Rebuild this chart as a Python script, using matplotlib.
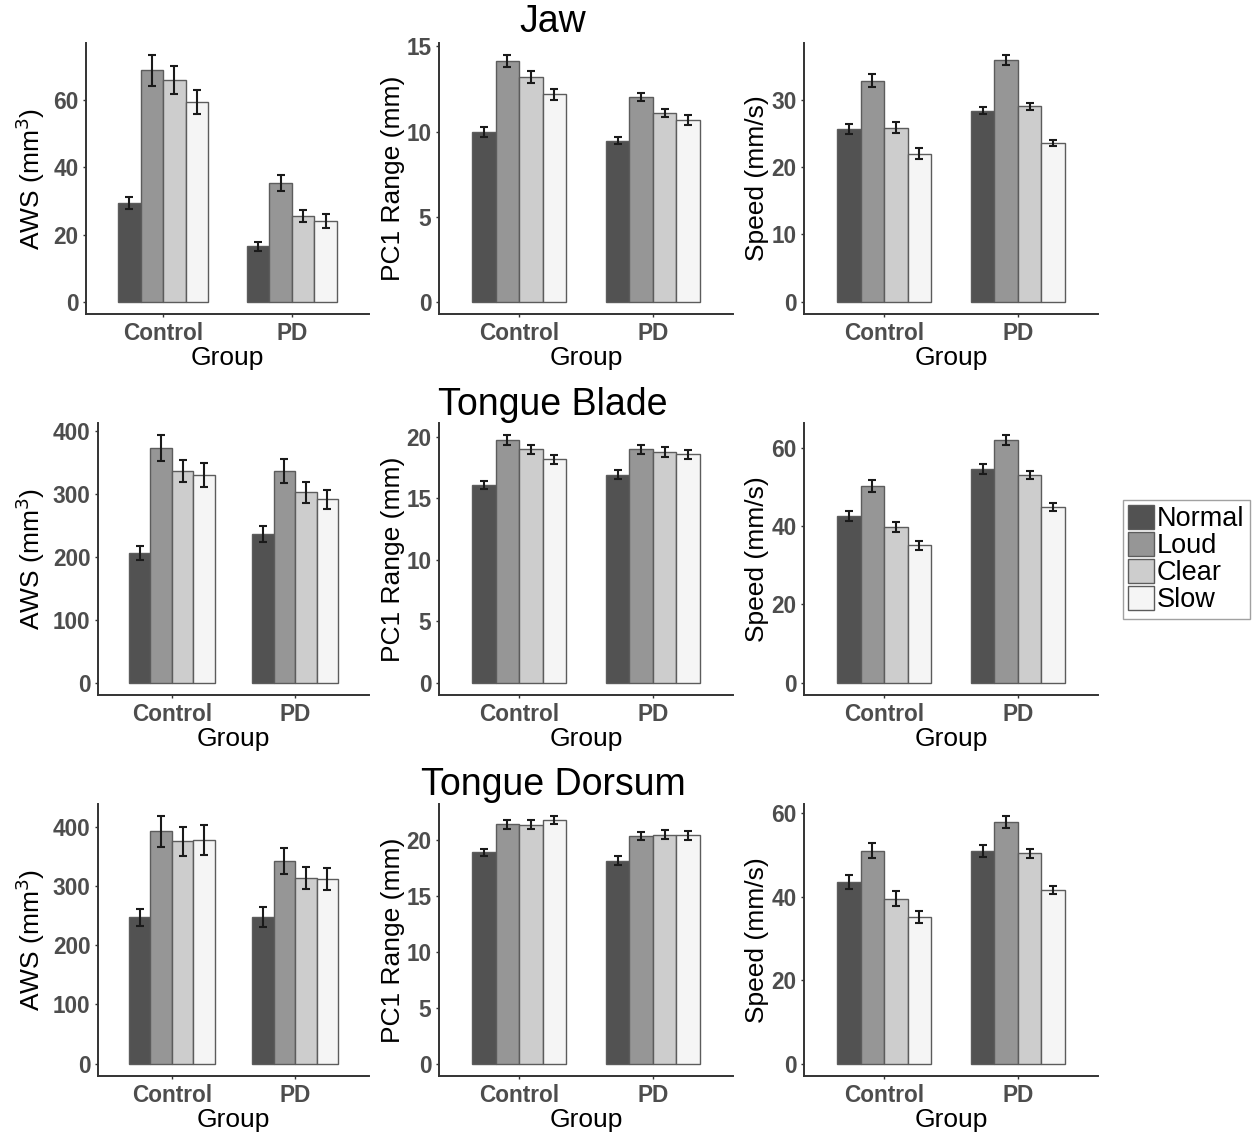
import numpy as np
import matplotlib
matplotlib.use("Agg")
import matplotlib.pyplot as plt
from matplotlib.patches import Patch

plt.rcParams['font.family'] = ['Liberation Sans', 'DejaVu Sans']

groups = ["Control", "PD"]
conditions = ["Normal", "Loud", "Clear", "Slow"]
fills = ["#525252", "#969696", "#cdcdcd", "#f5f5f5"]

# values: rows = group (Control, PD), cols = condition (Normal, Loud, Clear, Slow)
jaw_aws = [[29.4, 68.9, 66.1, 59.4], [16.5, 35.4, 25.6, 24.0]]
jaw_aws_err = [[1.8, 4.5, 4.2, 3.6], [1.3, 2.3, 1.8, 2.1]]
jaw_pc1 = [[9.98, 14.13, 13.2, 12.18], [9.45, 12.03, 11.1, 10.7]]
jaw_pc1_err = [[0.3, 0.35, 0.33, 0.3], [0.2, 0.26, 0.25, 0.3]]
jaw_speed = [[25.7, 32.9, 25.9, 22.0], [28.4, 35.9, 29.06, 23.6]]
jaw_speed_err = [[0.8, 1.0, 0.85, 0.8], [0.55, 0.75, 0.55, 0.5]]

tb_aws = [[206, 372, 336, 330], [236, 336, 302, 291]]
tb_aws_err = [[11, 20.6, 17.4, 19], [13, 18.5, 16.6, 15]]
tb_pc1 = [[16.05, 19.7, 18.97, 18.14], [16.9, 18.97, 18.76, 18.57]]
tb_pc1_err = [[0.3, 0.4, 0.38, 0.36], [0.38, 0.38, 0.42, 0.38]]
tb_speed = [[42.5, 50.2, 39.8, 35.1], [54.5, 62.0, 53.1, 44.9]]
tb_speed_err = [[1.3, 1.5, 1.3, 1.1], [1.3, 1.2, 1.05, 1.1]]

td_aws = [[246.7, 391.6, 374.8, 377], [247.3, 341.3, 312.7, 311.6]]
td_aws_err = [[14.8, 25.5, 25, 25], [17.6, 22, 18.5, 18.2]]
td_pc1 = [[18.93, 21.43, 21.4, 21.79], [18.18, 20.39, 20.5, 20.45]]
td_pc1_err = [[0.34, 0.4, 0.4, 0.36], [0.39, 0.4, 0.42, 0.39]]
td_speed = [[43.5, 51.0, 39.6, 35.2], [51.0, 57.9, 50.4, 41.7]]
td_speed_err = [[1.7, 1.8, 1.75, 1.5], [1.35, 1.4, 1.1, 1.0]]

aws_label = "AWS (mm$^3$)"
pc1_label = "PC1 Range (mm)"
speed_label = "Speed (mm/s)"

row_titles = ["Jaw", "Tongue Blade", "Tongue Dorsum"]
panels = [
    [(jaw_aws, jaw_aws_err, aws_label, [0, 20, 40, 60]),
     (jaw_pc1, jaw_pc1_err, pc1_label, [0, 5, 10, 15]),
     (jaw_speed, jaw_speed_err, speed_label, [0, 10, 20, 30])],
    [(tb_aws, tb_aws_err, aws_label, [0, 100, 200, 300, 400]),
     (tb_pc1, tb_pc1_err, pc1_label, [0, 5, 10, 15, 20]),
     (tb_speed, tb_speed_err, speed_label, [0, 20, 40, 60])],
    [(td_aws, td_aws_err, aws_label, [0, 100, 200, 300, 400]),
     (td_pc1, td_pc1_err, pc1_label, [0, 5, 10, 15, 20]),
     (td_speed, td_speed_err, speed_label, [0, 20, 40, 60])],
]

W, H = 1260, 1137
fig = plt.figure(figsize=(W / 100, H / 100), dpi=100)

# panel boxes in pixels
row_top = [43, 423, 804]
row_bot = [314, 695, 1076]
col_left = [[86, 439, 804], [98, 439, 804], [98, 439, 804]]
col_right = [369, 733, 1098]
ylabel_x = [30, 393, 757]
title_y = [22, 405, 785]

tick_col = "#4d4d4d"
dodge = 0.7
bw = dodge / 4

for r in range(3):
    for c in range(3):
        vals, errs, ylab, yticks = panels[r][c]
        vals = np.array(vals)
        errs = np.array(errs)
        l, rr = col_left[r][c], col_right[c]
        t, b = row_top[r], row_bot[r]
        ax = fig.add_axes([l / W, 1 - b / H, (rr - l) / W, (b - t) / H])
        x = np.arange(1, 3)
        for k in range(4):
            xs = x - dodge / 2 + bw * (k + 0.5)
            ax.bar(xs, vals[:, k], width=bw, color=fills[k],
                   edgecolor="#5c5c5c", linewidth=1.0, zorder=2)
            ax.errorbar(xs, vals[:, k], yerr=errs[:, k], fmt="none",
                        ecolor="#1a1a1a", elinewidth=1.5, capsize=3,
                        capthick=1.5, zorder=3)
        top = (vals + errs).max()
        ax.set_ylim(-0.05 * top, 1.05 * top)
        ax.set_xlim(0.4, 2.6)
        ax.set_xticks(x)
        ax.set_xticklabels(groups)
        ax.set_yticks(yticks)
        for s in ["top", "right"]:
            ax.spines[s].set_visible(False)
        for s in ["left", "bottom"]:
            ax.spines[s].set_color("#333333")
            ax.spines[s].set_linewidth(1.4)
        ax.tick_params(length=2.5, width=1, color="#333333", labelsize=16.3,
                       labelcolor=tick_col, pad=3)
        for lab in ax.get_xticklabels() + ax.get_yticklabels():
            lab.set_fontweight("bold")
        ax.set_xlabel("Group", fontsize=19, color="black")
        ax.xaxis.set_label_coords(0.5, -44 / (b - t))
        ax.xaxis.label.set_verticalalignment("center")
        ax.set_ylabel(ylab, fontsize=19, color="black")
        ax.yaxis.set_label_coords((ylabel_x[c] - l) / (rr - l), 0.5)
        ax.yaxis.label.set_verticalalignment("center")
    fig.text(553 / W, 1 - title_y[r] / H, row_titles[r], fontsize=27,
             ha="center", va="center")

handles = [Patch(facecolor=fills[k], edgecolor="#5c5c5c", linewidth=1.0)
           for k in range(4)]
leg = fig.legend(handles, conditions, loc="upper left",
                 bbox_to_anchor=(1123 / W, 1 - 500 / H), fontsize=19.5,
                 handlelength=0.95, handleheight=0.95, handletextpad=0.1,
                 labelspacing=0.0, borderpad=0.2, borderaxespad=0,
                 fancybox=False, frameon=True)
leg.get_frame().set_edgecolor("#8a8a8a")
leg.get_frame().set_linewidth(1.0)

fig.savefig("out.png", dpi=100)
